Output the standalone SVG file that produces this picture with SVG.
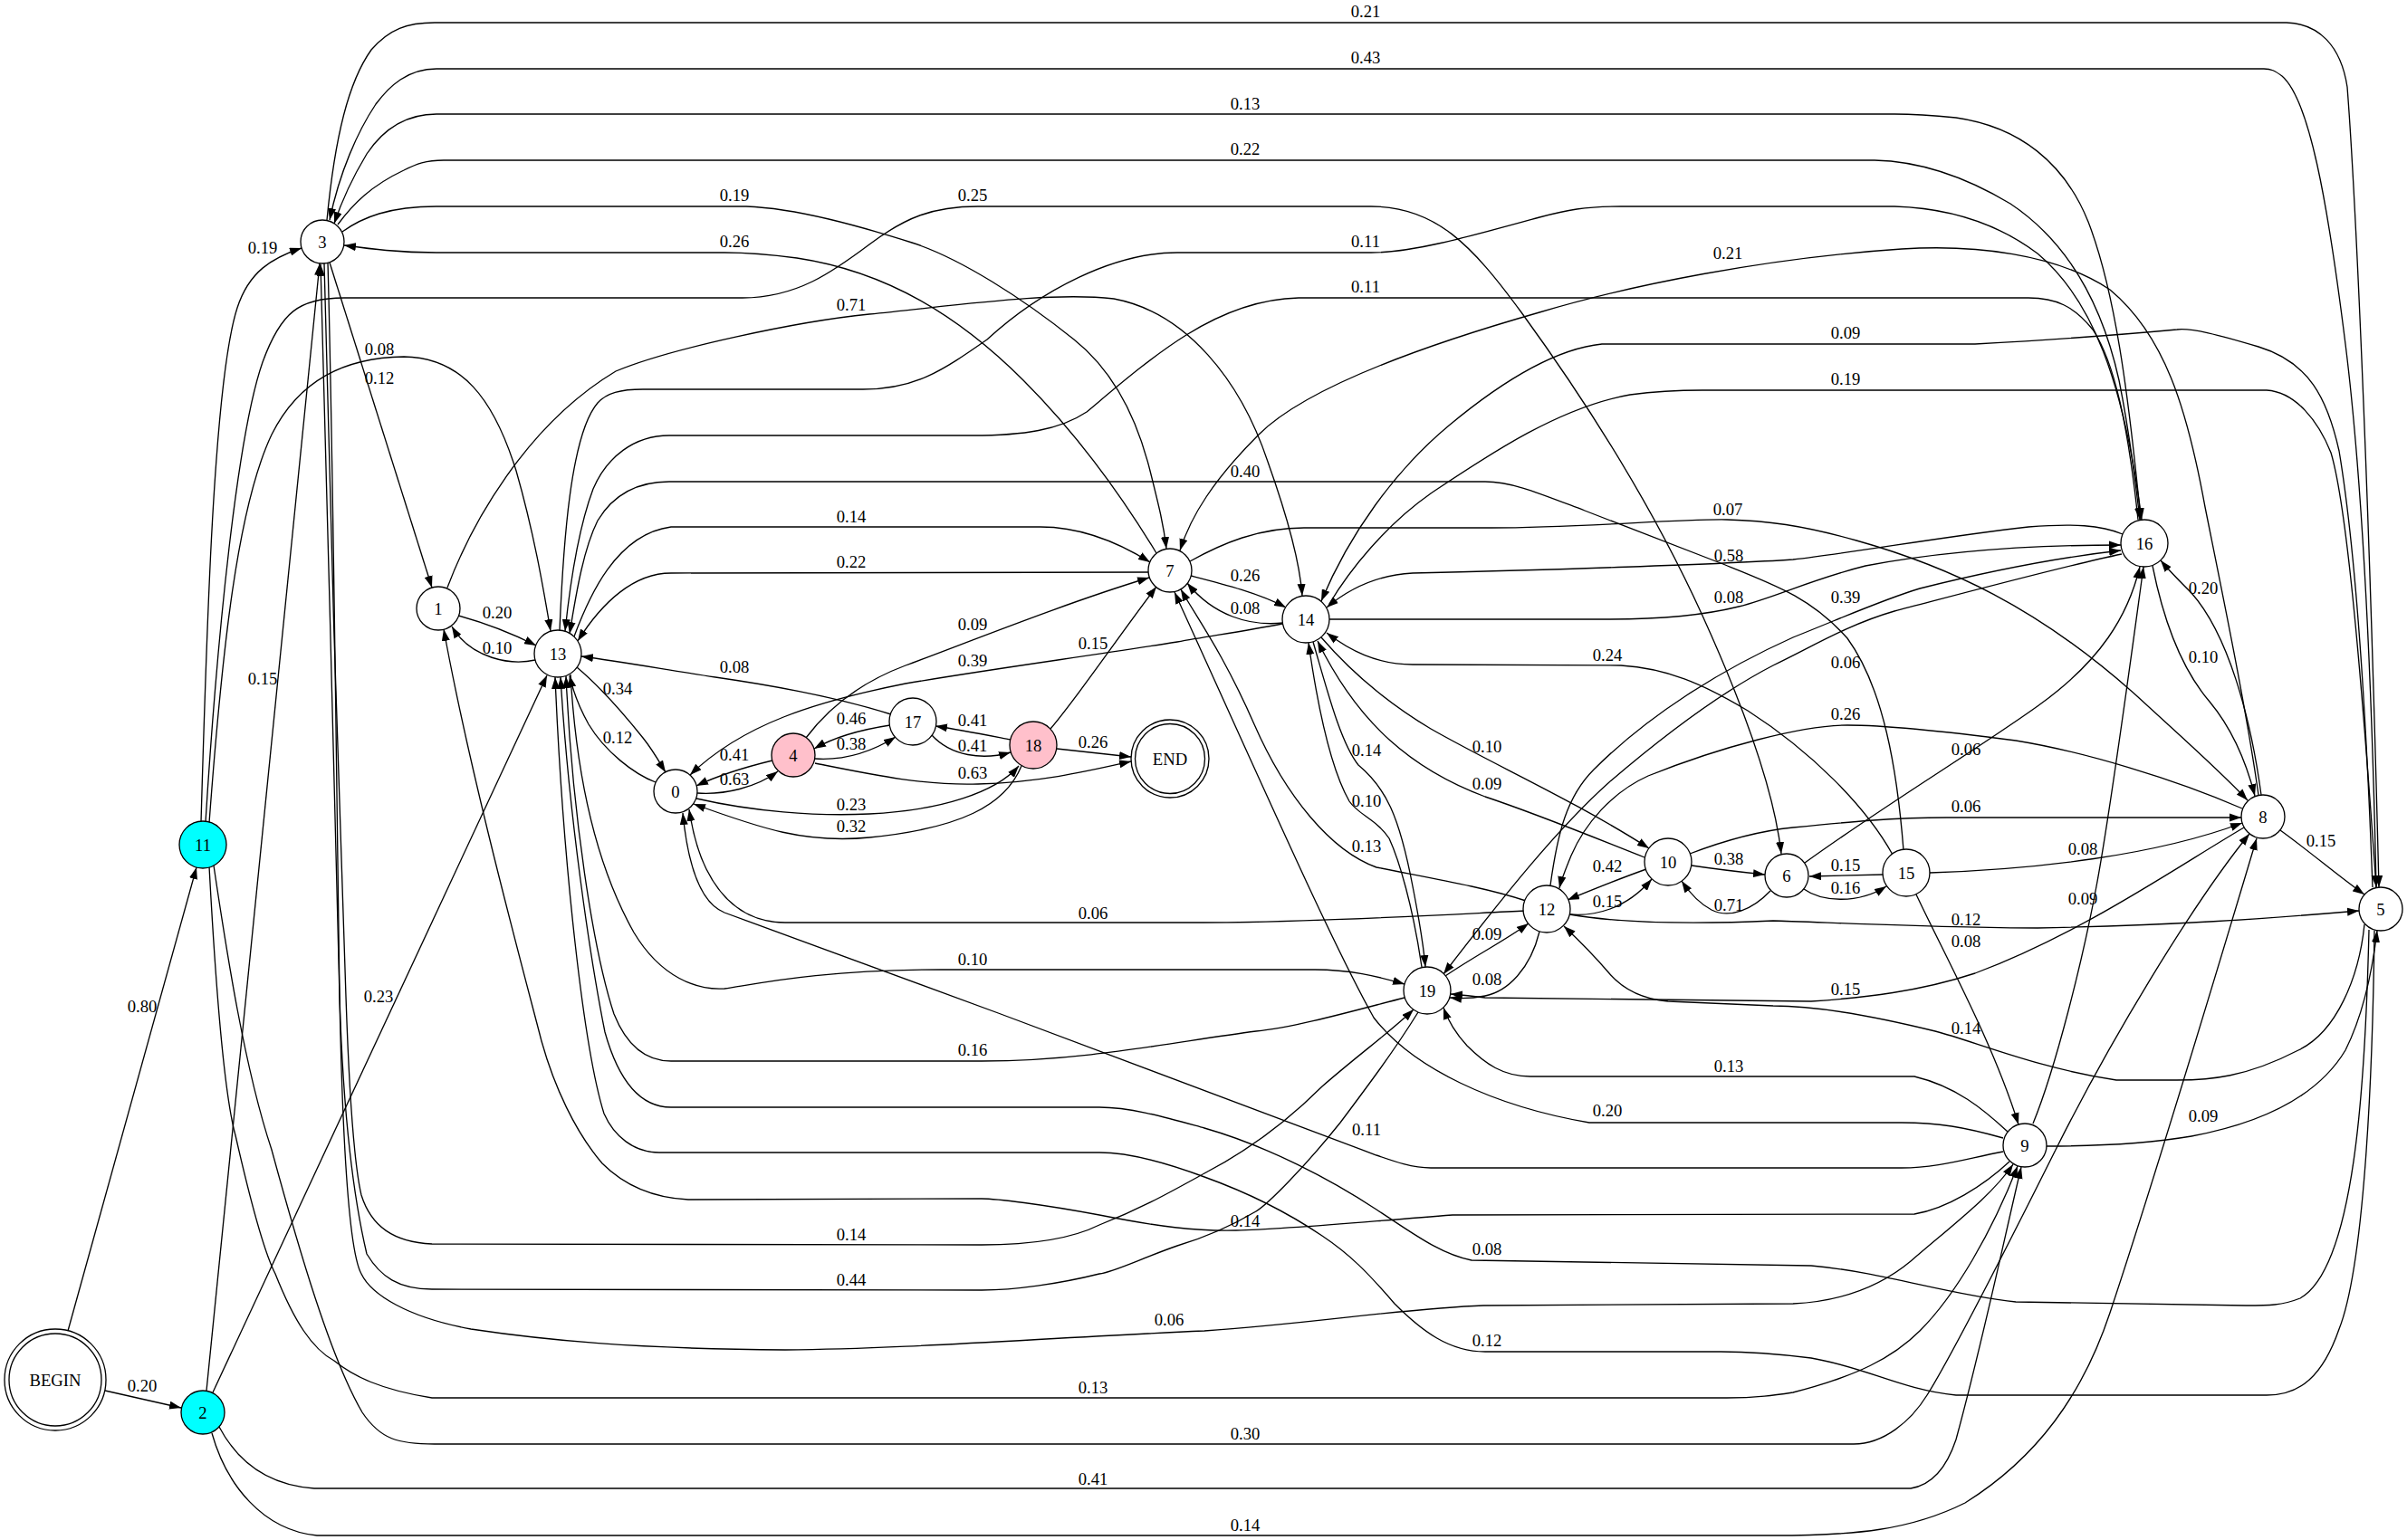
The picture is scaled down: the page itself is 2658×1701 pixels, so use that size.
<svg xmlns="http://www.w3.org/2000/svg" width="2658" height="1701" viewBox="0 0 2658 1701">
<defs>
<marker id="ah" viewBox="0 0 10 7" refX="10" refY="3.5" markerWidth="13" markerHeight="9.3" markerUnits="userSpaceOnUse" orient="auto"><path d="M0,0 L10,3.5 L0,7 z" fill="#000"/></marker>
<style>
.e path{fill:none;stroke:#000;stroke-width:1.33;marker-end:url(#ah)}
.e text,.n text{font-family:"Liberation Serif","Times New Roman",serif;font-size:18.67px;text-anchor:middle;fill:#000}
.n circle{fill:#fff;stroke:#000;stroke-width:1.33}
.n .cy{fill:#00ffff}
.n .pk{fill:#ffc0cb}
.n .o{fill:none}
</style>
</defs>
<rect width="2658" height="1701" fill="#fff"/>
<g id="edges" class="e">
<g id="e_B_11"><path d="M75,1470 L217,958"/><text x="157" y="1118">0.80</text></g>
<g id="e_B_2"><path d="M116,1536 L200,1555"/><text x="157" y="1537">0.20</text></g>
<g id="e_11_3"><path d="M222,908 C228,700 236,420 262,340 C275,300 300,285 333,274"/><text x="290" y="280">0.19</text></g>
<g id="e_11_6"><path d="M227,908 C240,700 262,480 290,400 C310,345 330,329 380,329 L820,329 C880,329 920,300 960,270 C1000,240 1030,228 1080,228 L1514,228 C1585,228 1625,270 1680,345 C1760,455 1830,570 1880,680 C1930,790 1960,880 1967,943"/><text x="1074" y="222">0.25</text></g>
<g id="e_11_13"><path d="M231,909 C245,720 262,560 300,480 C330,420 380,395 446,394 C510,395 545,440 570,520 C590,590 600,650 608,697"/><text x="419" y="392">0.08</text></g>
<g id="e_2_3"><path d="M228,1536 L353,291"/><text x="290" y="756">0.15</text></g>
<g id="e_2_13"><path d="M235,1538 L604,746"/><text x="418" y="1107">0.23</text></g>
<g id="e_3_1"><path d="M364,290 L477,649"/><text x="419" y="424">0.12</text></g>
<g id="e_1_13"><path d="M506,680 Q550,692 592,713"/><text x="549" y="683">0.20</text></g>
<g id="e_13_1"><path d="M591,729 C565,735 520,728 499,692"/><text x="549" y="722">0.10</text></g>
<g id="e_1_14"><path d="M494,649 C520,580 580,470 680,410 C740,385 880,355 960,347 C1060,337 1160,322 1230,330 C1310,345 1370,420 1400,510 C1425,580 1436,630 1438,658"/><text x="940" y="343">0.71</text></g>
<g id="e_13_0"><path d="M637,737 C662,758 690,790 710,815 C722,830 730,845 735,853"/><text x="682" y="767">0.34</text></g>
<g id="e_0_13"><path d="M724,864 C700,855 668,830 650,800 C640,782 633,765 629,746"/><text x="682" y="821">0.12</text></g>
<g id="e_13_7"><path d="M634,703 C650,660 680,590 741,582 L1149,582 C1190,582 1230,596 1270,621"/><text x="940" y="577">0.14</text></g>
<g id="e_7_13"><path d="M1268,632 C1200,633 1100,633 741,633 C700,633 665,665 638,708"/><text x="940" y="627">0.22</text></g>
<g id="e_17_13"><path d="M984,789 C930,772 860,758 790,748 C720,737 680,730 642,725"/><text x="811" y="743">0.08</text></g>
<g id="e_0_4"><path d="M770,876 C800,878 835,870 859,852"/><text x="811" y="867">0.63</text></g>
<g id="e_4_0"><path d="M853,840 C820,848 790,858 769,868"/><text x="811" y="840">0.41</text></g>
<g id="e_0_18"><path d="M769,882 C830,896 900,902 960,899 C1040,895 1100,875 1125,846"/><text x="940" y="895">0.23</text></g>
<g id="e_18_0"><path d="M1128,846 C1110,890 1060,915 960,925 C890,932 840,915 766,888"/><text x="940" y="919">0.32</text></g>
<g id="e_4_17"><path d="M900,838 C930,840 960,832 989,814"/><text x="940" y="828">0.38</text></g>
<g id="e_17_4"><path d="M983,801 C950,806 920,815 899,827"/><text x="940" y="800">0.46</text></g>
<g id="e_4_END"><path d="M900,843 C960,855 1020,868 1080,866 C1150,864 1200,852 1249,841"/><text x="1074" y="860">0.63</text></g>
<g id="e_17_18"><path d="M1029,812 C1050,835 1085,840 1116,831"/><text x="1074" y="830">0.41</text></g>
<g id="e_18_17"><path d="M1116,817 C1090,812 1060,806 1033,802"/><text x="1074" y="802">0.41</text></g>
<g id="e_18_END"><path d="M1167,827 L1249,836"/><text x="1207" y="826">0.26</text></g>
<g id="e_4_7"><path d="M890,815 C920,775 960,750 1000,735 C1080,705 1180,665 1269,638"/><text x="1074" y="696">0.09</text></g>
<g id="e_18_7"><path d="M1160,805 C1190,770 1230,710 1277,648"/><text x="1207" y="717">0.15</text></g>
<g id="e_7_14"><path d="M1315,636 C1350,645 1390,655 1420,671"/><text x="1375" y="642">0.26</text></g>
<g id="e_14_7"><path d="M1417,688 C1380,692 1340,680 1311,644"/><text x="1375" y="678">0.08</text></g>
<g id="e_14_0"><path d="M1416,689 C1380,696 1340,702 1300,709 C1200,725 1100,738 1000,755 C900,775 820,800 762,856"/><text x="1074" y="736">0.39</text></g>
<g id="e_8_7"><path d="M2494,878 C2480,780 2455,660 2435,560 C2415,450 2390,370 2330,320 C2270,280 2180,270 2100,275 C1950,285 1800,315 1700,345 C1560,385 1440,430 1390,480 C1340,530 1315,570 1303,608"/><text x="1908" y="286">0.21</text></g>
<g id="e_7_8"><path d="M1314,620 C1350,600 1390,583 1440,583 L1647,583 C1750,583 1850,573 1907,574 C1950,575 1990,580 2050,597 C2150,625 2250,670 2360,769 C2410,815 2450,850 2482,884"/><text x="1908" y="569">0.07</text></g>
<g id="e_12_7"><path d="M1685,995 C1640,980 1580,970 1520,958 C1470,940 1420,880 1385,800 C1350,720 1320,680 1304,651"/><text x="1509" y="941">0.13</text></g>
<g id="e_9_7"><path d="M2212,1257 C2170,1245 2140,1240 2100,1240 L1755,1240 C1650,1222 1560,1180 1517,1124 C1470,1040 1400,880 1297,654"/><text x="1775" y="1233">0.20</text></g>
<g id="e_9_0"><path d="M2212,1272 C2170,1280 2140,1290 2100,1290 L1580,1290 C1560,1290 1540,1283 1520,1276 L1105,1120 L800,1008 C775,998 760,960 754,898"/><text x="1509" y="1254">0.11</text></g>
<g id="e_12_0"><path d="M1684,1006 C1600,1010 1450,1019 1330,1019 L867,1019 C820,1019 795,990 780,960 C770,940 765,920 761,894"/><text x="1207" y="1015">0.06</text></g>
<g id="e_13_19"><path d="M630,745 C636,850 655,950 700,1030 C730,1080 770,1094 800,1092 C830,1088 900,1071 1040,1071 L1452,1071 C1490,1071 1520,1078 1551,1087"/><text x="1074" y="1066">0.10</text></g>
<g id="e_19_13"><path d="M1551,1102 C1500,1115 1430,1135 1387,1139 C1300,1150 1200,1172 1084,1172 L741,1172 C710,1172 690,1150 678,1120 C655,1050 632,900 625,747"/><text x="1074" y="1166">0.16</text></g>
<g id="e_5_13a"><path d="M2616,1027 C2612,1200 2600,1400 2540,1434 C2520,1442 2505,1442 2480,1442 L2226,1438 C2150,1430 2080,1405 2000,1398 L1625,1392 C1590,1385 1560,1362 1520,1336 C1470,1303 1400,1266 1330,1246 C1290,1235 1250,1223 1214,1223 L741,1223 C705,1223 682,1190 668,1140 C652,1060 628,900 619,748"/><text x="1642" y="1386">0.08</text></g>
<g id="e_5_13b"><path d="M2622,1028 C2620,1200 2610,1400 2583,1468 C2565,1520 2540,1541 2503,1541 L2160,1541 C2100,1535 2060,1510 2000,1500 C1960,1495 1930,1493 1900,1493 L1640,1493 C1600,1493 1570,1470 1540,1440 C1510,1405 1490,1385 1460,1365 C1420,1338 1380,1318 1330,1300 C1290,1285 1250,1273 1214,1273 L728,1273 C700,1273 678,1255 667,1230 C645,1160 622,960 613,748"/><text x="1642" y="1487">0.12</text></g>
<g id="e_5_12"><path d="M2611,1021 C2605,1080 2580,1140 2538,1160 C2480,1190 2440,1193 2404,1193 L2337,1193 C2250,1180 2180,1150 2137,1139 C2060,1120 2000,1111 1958,1111 L1842,1106 C1810,1103 1790,1090 1777,1075 C1760,1055 1745,1040 1727,1023"/><text x="2171" y="1142">0.14</text></g>
<g id="e_8_19"><path d="M2478,914 C2400,960 2300,1030 2181,1075 C2120,1095 2060,1102 2000,1106 L1640,1102 C1625,1100 1615,1099 1602,1098"/><text x="2038" y="1099">0.15</text></g>
<g id="e_12_19"><path d="M1700,1029 C1690,1070 1665,1095 1640,1100 C1625,1103 1612,1103 1601,1102"/><text x="1642" y="1088">0.08</text></g>
<g id="e_19_12"><path d="M1596,1078 C1630,1055 1660,1040 1688,1020"/><text x="1642" y="1038">0.09</text></g>
<g id="e_10_12"><path d="M1818,960 C1790,970 1760,982 1731,994"/><text x="1775" y="963">0.42</text></g>
<g id="e_12_10"><path d="M1734,1010 C1760,1012 1795,1005 1824,971"/><text x="1775" y="1002">0.15</text></g>
<g id="e_10_6"><path d="M1868,956 C1895,960 1920,963 1949,966"/><text x="1909" y="955">0.38</text></g>
<g id="e_6_10"><path d="M1955,984 C1935,1005 1910,1015 1890,1005 C1875,997 1865,985 1857,973"/><text x="1909" y="1006">0.71</text></g>
<g id="e_10_8"><path d="M1866,943 C1900,930 1940,918 1980,914 C2040,908 2090,903 2150,903 L2475,903"/><text x="2171" y="897">0.06</text></g>
<g id="e_6_16"><path d="M1993,953 C2080,890 2180,830 2250,780 C2320,730 2350,680 2363,626"/><text x="2171" y="834">0.06</text></g>
<g id="e_9_16"><path d="M2245,1241 C2270,1180 2300,1060 2315,979 C2330,900 2350,750 2367,626"/><text x="2300" y="999">0.09</text></g>
<g id="e_15_6"><path d="M2080,966 L1998,968"/><text x="2038" y="962">0.15</text></g>
<g id="e_6_15"><path d="M1992,982 C2010,995 2050,1000 2083,979"/><text x="2038" y="987">0.16</text></g>
<g id="e_15_8"><path d="M2131,964 C2250,960 2380,945 2476,909"/><text x="2300" y="944">0.08</text></g>
<g id="e_15_9"><path d="M2116,988 C2150,1060 2200,1150 2229,1242"/><text x="2171" y="1046">0.08</text></g>
<g id="e_15_14"><path d="M2090,944 C2060,890 2000,830 1930,785 C1880,755 1840,738 1790,735 L1560,734 C1520,734 1490,718 1465,699"/><text x="1775" y="730">0.24</text></g>
<g id="e_15_13"><path d="M2102,939 C2095,850 2080,760 2040,705 C2000,660 1960,646 1900,622 L1750,564 C1700,545 1670,532 1640,532 L739,532 C700,532 675,550 660,575 C645,605 637,650 629,700"/><text x="1375" y="527">0.40</text></g>
<g id="e_13_16"><path d="M618,696 C622,600 630,480 660,445 C670,434 685,430 710,430 L953,430 C1010,430 1040,410 1090,375 C1150,320 1230,279 1300,279 L1514,279 C1560,279 1620,262 1700,240 C1730,232 1750,228 1790,228 L2092,228 C2160,230 2210,250 2250,280 C2310,330 2345,420 2365,574"/><text x="1508" y="273">0.11</text></g>
<g id="e_16_13"><path d="M2361,574 C2350,470 2335,400 2311,364 C2290,338 2270,329 2240,329 L1434,329 C1390,330 1350,345 1310,370 C1270,395 1230,430 1200,455 C1170,475 1130,481 1074,481 L739,481 C700,481 670,505 655,540 C640,580 630,640 624,697"/><text x="1508" y="323">0.11</text></g>
<g id="e_3_5"><path d="M361,243 C370,150 385,90 410,55 C430,32 450,25 480,25 L2525,25 C2560,26 2585,50 2592,96 C2600,200 2615,500 2627,980"/><text x="1508" y="19">0.21</text></g>
<g id="e_5_3"><path d="M2624,980 C2618,700 2605,500 2590,380 C2570,220 2550,110 2520,84 C2512,78 2508,76 2500,76 L482,76 C450,76 430,95 415,115 C395,145 375,190 364,243"/><text x="1508" y="70">0.43</text></g>
<g id="e_16_3"><path d="M2364,574 C2350,430 2335,320 2306,245 C2280,180 2230,140 2160,130 C2130,127 2110,126 2092,126 L482,126 C450,126 425,140 405,170 C390,195 378,220 369,247"/><text x="1375" y="121">0.13</text></g>
<g id="e_3_16"><path d="M373,248 C390,225 410,205 446,188 C460,181 470,177 490,177 L2070,177 C2120,178 2170,195 2220,225 C2280,265 2320,330 2340,420 C2352,480 2358,530 2363,574"/><text x="1375" y="171">0.22</text></g>
<g id="e_3_7"><path d="M378,256 C400,240 430,228 482,228 L824,228 C880,230 950,250 1007,268 C1060,285 1130,330 1186,375 C1230,410 1255,460 1270,520 C1280,560 1285,580 1288,606"/><text x="811" y="222">0.19</text></g>
<g id="e_7_3"><path d="M1277,611 C1240,550 1190,480 1130,420 C1060,350 980,300 880,285 C850,281 830,279 800,279 L482,279 C440,279 410,275 380,271"/><text x="811" y="273">0.26</text></g>
<g id="e_5_14"><path d="M2620,980 C2612,760 2600,600 2583,498 C2570,440 2550,400 2494,383 C2450,370 2420,362 2404,364 C2340,370 2270,375 2181,380 L1769,380 C1720,385 1660,420 1600,470 C1540,520 1490,590 1459,664"/><text x="2038" y="374">0.09</text></g>
<g id="e_14_5"><path d="M1468,667 C1490,630 1530,580 1580,545 C1640,505 1720,450 1800,436 C1830,432 1860,431 1880,431 L2503,431 C2535,433 2560,465 2574,500 C2592,560 2608,750 2624,980"/><text x="2038" y="425">0.19</text></g>
<g id="e_16_14"><path d="M2344,590 C2320,580 2290,578 2240,582 C2150,592 2050,610 1980,618 C1907,623 1700,630 1560,633 C1520,635 1490,650 1465,671"/><text x="1909" y="620">0.58</text></g>
<g id="e_14_16"><path d="M1468,684 L1777,684 C1830,684 1880,680 1920,670 C1960,660 2000,640 2060,625 C2150,608 2250,602 2342,602"/><text x="1909" y="666">0.08</text></g>
<g id="e_12_16"><path d="M1712,978 C1720,920 1730,880 1760,850 C1820,790 1900,740 1980,704 C2040,680 2080,662 2120,650 C2200,630 2280,615 2342,608"/><text x="2038" y="666">0.39</text></g>
<g id="e_16_19"><path d="M2343,612 C2280,625 2150,660 2092,675 C2040,690 2000,715 1958,735 C1900,765 1840,810 1777,864 C1720,915 1660,990 1594,1076"/><text x="2038" y="738">0.06</text></g>
<g id="e_8_12"><path d="M2476,893 C2400,860 2300,830 2226,818 C2150,808 2080,801 2040,801 C1990,801 1900,825 1820,857 C1780,875 1750,910 1735,945 C1728,962 1724,972 1722,981"/><text x="2038" y="795">0.26</text></g>
<g id="e_8_16"><path d="M2497,878 C2485,790 2460,700 2420,655 C2405,640 2395,630 2386,619"/><text x="2433" y="656">0.20</text></g>
<g id="e_16_8"><path d="M2377,625 C2390,690 2410,740 2440,775 C2465,805 2480,840 2490,879"/><text x="2433" y="732">0.10</text></g>
<g id="e_8_5"><path d="M2518,917 C2550,940 2585,970 2611,988"/><text x="2563" y="935">0.15</text></g>
<g id="e_12_5"><path d="M1733,1010 C1780,1018 1850,1022 1958,1017 C2050,1020 2150,1025 2250,1025 C2400,1022 2500,1015 2605,1006"/><text x="2171" y="1022">0.12</text></g>
<g id="e_9_5"><path d="M2260,1266 C2300,1266 2360,1265 2420,1255 C2500,1240 2560,1210 2590,1160 C2610,1120 2620,1070 2625,1028"/><text x="2433" y="1239">0.09</text></g>
<g id="e_9_19"><path d="M2217,1250 C2190,1225 2160,1200 2114,1189 L1690,1189 C1660,1189 1640,1175 1620,1155 C1608,1142 1600,1130 1594,1113"/><text x="1909" y="1184">0.13</text></g>
<g id="e_9_1"><path d="M2219,1283 C2190,1310 2150,1335 2114,1341 L1604,1342 C1500,1350 1420,1358 1365,1359 C1320,1360 1280,1355 1214,1342 C1150,1330 1100,1324 1084,1324 L760,1325 C720,1323 690,1310 665,1285 C635,1250 612,1200 598,1150 C580,1080 520,860 490,695"/><text x="1375" y="1355">0.14</text></g>
<g id="e_3_19"><path d="M358,291 C362,500 375,900 382,1101 C386,1220 392,1290 399,1320 C410,1355 435,1372 477,1374 L1084,1375 C1150,1375 1190,1365 1214,1353 C1260,1335 1290,1318 1330,1296 C1380,1270 1420,1240 1460,1200 C1500,1165 1535,1140 1561,1115"/><text x="940" y="1370">0.14</text></g>
<g id="e_19_3"><path d="M1566,1118 C1540,1160 1510,1200 1480,1240 C1440,1290 1400,1330 1387,1338 C1350,1360 1320,1370 1300,1376 C1260,1390 1230,1405 1214,1407 C1170,1418 1120,1425 1084,1425 L477,1424 C440,1424 420,1410 405,1385 C385,1300 378,1200 375,1101 C370,900 360,500 354,292"/><text x="940" y="1420">0.44</text></g>
<g id="e_3_9"><path d="M362,290 C368,500 372,900 375,1101 C378,1250 384,1380 399,1407 C410,1430 450,1455 520,1468 C600,1480 700,1490 867,1491 C1000,1490 1150,1478 1330,1470 C1450,1462 1550,1445 1638,1442 L1980,1440 C2040,1437 2080,1418 2110,1393 C2160,1350 2200,1320 2223,1286"/><text x="1291" y="1464">0.06</text></g>
<g id="e_11_9"><path d="M231,957 C236,1050 245,1200 260,1254 C275,1320 290,1380 304,1407 C325,1460 345,1490 369,1503 C390,1520 420,1535 477,1544 L1907,1544 C1940,1544 1960,1541 1980,1538 C2050,1520 2090,1500 2120,1470 C2160,1430 2200,1360 2228,1288"/><text x="1207" y="1539">0.13</text></g>
<g id="e_11_8"><path d="M236,956 C250,1050 270,1180 300,1270 C330,1380 365,1500 400,1560 C420,1590 440,1595 480,1595 L2047,1595 C2080,1595 2110,1570 2128,1541 C2160,1490 2230,1350 2270,1270 C2330,1150 2420,1000 2484,921"/><text x="1375" y="1590">0.30</text></g>
<g id="e_2_9"><path d="M242,1576 C260,1610 290,1640 347,1644 L2110,1644 C2135,1640 2150,1620 2160,1590 C2190,1480 2215,1360 2232,1289"/><text x="1207" y="1640">0.41</text></g>
<g id="e_2_8"><path d="M234,1583 C250,1640 290,1690 350,1696 L1958,1696 C2050,1696 2110,1690 2170,1660 C2250,1610 2300,1540 2330,1450 C2380,1300 2440,1100 2492,926"/><text x="1375" y="1691">0.14</text></g>
<g id="e_14_10"><path d="M1459,704 C1490,740 1530,775 1580,805 C1650,845 1740,885 1821,937"/><text x="1642" y="831">0.10</text></g>
<g id="e_10_14"><path d="M1816,947 C1760,925 1700,900 1640,880 C1560,850 1500,800 1455,708"/><text x="1642" y="872">0.09</text></g>
<g id="e_14_19"><path d="M1450,709 C1465,760 1480,820 1500,845 C1530,870 1545,900 1560,979 C1568,1020 1572,1045 1574,1068"/><text x="1509" y="835">0.14</text></g>
<g id="e_19_14"><path d="M1570,1068 C1560,1000 1545,950 1534,926 C1520,905 1500,900 1490,885 C1470,850 1455,780 1445,710"/><text x="1509" y="891">0.10</text></g>
</g>
<g id="nodes" class="n">
<g id="n0"><circle cx="746" cy="874" r="24"/><text x="746" y="880.5">0</text></g>
<g id="n1"><circle cx="484" cy="672" r="24"/><text x="484" y="678.5">1</text></g>
<g id="n2"><circle class="cy" cx="224" cy="1560" r="24"/><text x="224" y="1566.5">2</text></g>
<g id="n3"><circle cx="356" cy="267" r="24"/><text x="356" y="273.5">3</text></g>
<g id="n4"><circle class="pk" cx="876" cy="834" r="24"/><text x="876" y="840.5">4</text></g>
<g id="n5"><circle cx="2629" cy="1004" r="24"/><text x="2629" y="1010.5">5</text></g>
<g id="n6"><circle cx="1973" cy="967" r="24"/><text x="1973" y="973.5">6</text></g>
<g id="n7"><circle cx="1292" cy="630" r="24"/><text x="1292" y="636.5">7</text></g>
<g id="n8"><circle cx="2499" cy="902" r="24"/><text x="2499" y="908.5">8</text></g>
<g id="n9"><circle cx="2236" cy="1265" r="24"/><text x="2236" y="1271.5">9</text></g>
<g id="n10"><circle cx="1842" cy="952" r="26"/><text x="1842" y="958.5">10</text></g>
<g id="n11"><circle class="cy" cx="224" cy="933" r="26"/><text x="224" y="939.5">11</text></g>
<g id="n12"><circle cx="1708" cy="1004" r="26"/><text x="1708" y="1010.5">12</text></g>
<g id="n13"><circle cx="616" cy="722" r="26"/><text x="616" y="728.5">13</text></g>
<g id="n14"><circle cx="1442" cy="684" r="26"/><text x="1442" y="690.5">14</text></g>
<g id="n15"><circle cx="2105" cy="964" r="26"/><text x="2105" y="970.5">15</text></g>
<g id="n16"><circle cx="2368" cy="600" r="26"/><text x="2368" y="606.5">16</text></g>
<g id="n17"><circle cx="1008" cy="797" r="26"/><text x="1008" y="803.5">17</text></g>
<g id="n18"><circle class="pk" cx="1141" cy="823" r="26"/><text x="1141" y="829.5">18</text></g>
<g id="n19"><circle cx="1576" cy="1094" r="26"/><text x="1576" y="1100.5">19</text></g>
<g id="nBEGIN"><circle cx="61" cy="1524" r="56"/><circle class="o" cx="61" cy="1524" r="51"/><text x="61" y="1530.5">BEGIN</text></g>
<g id="nEND"><circle cx="1292" cy="838" r="43"/><circle class="o" cx="1292" cy="838" r="38.5"/><text x="1292" y="844.5">END</text></g>
</g>
</svg>
